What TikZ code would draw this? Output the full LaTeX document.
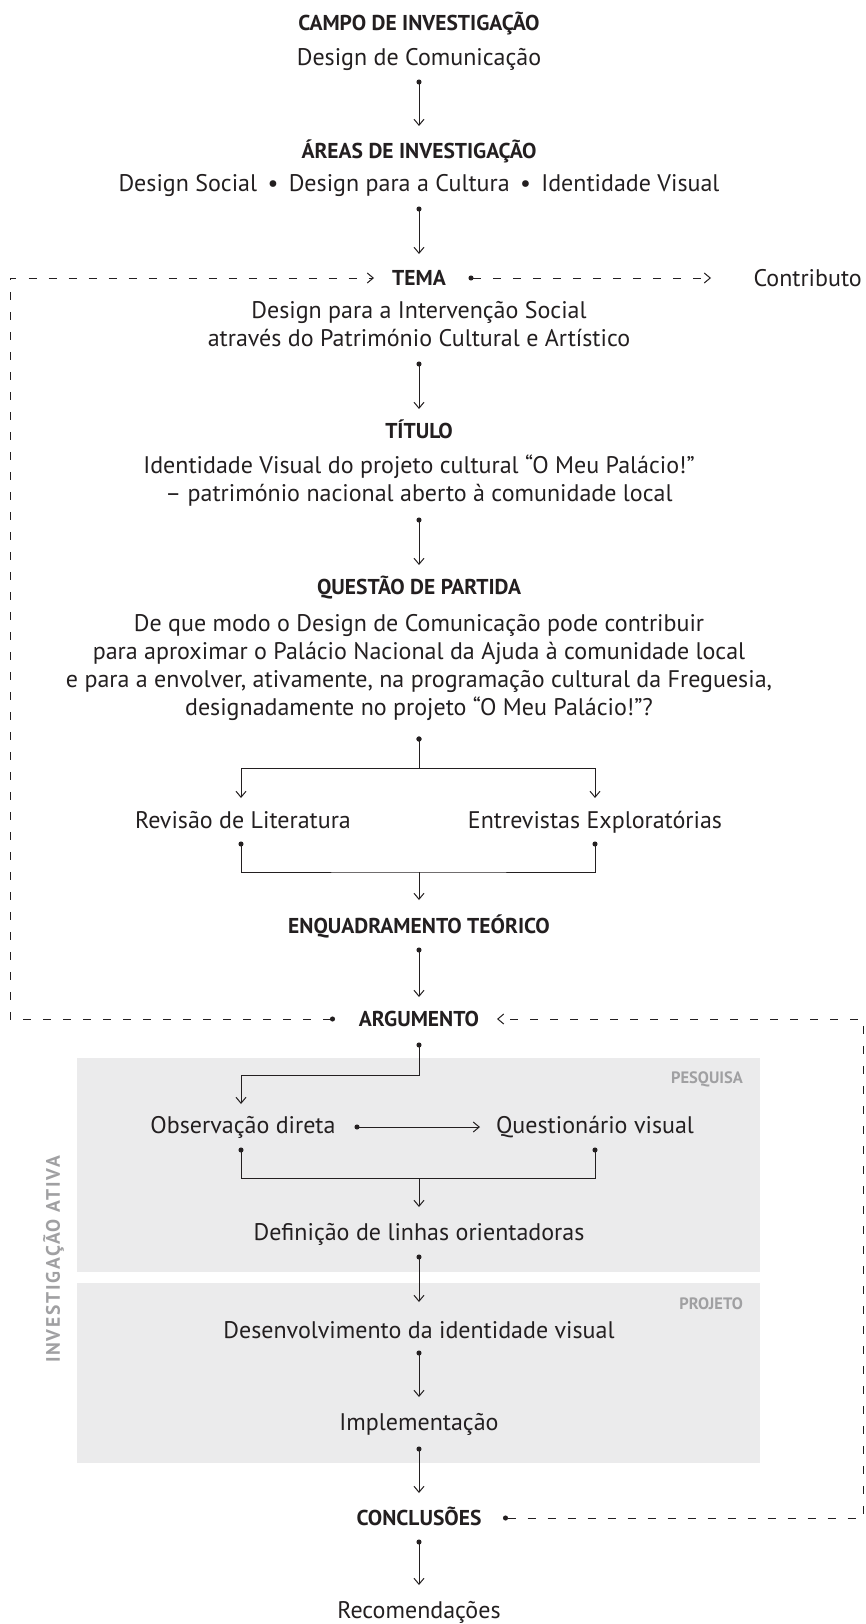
\documentclass[tikz,border=0pt]{standalone}
\usepackage{fontspec}
\setmainfont{PT Sans}
\usetikzlibrary{arrows.meta}
\definecolor{ink}{HTML}{231F20}
\definecolor{boxgray}{HTML}{EBEBEC}
\definecolor{labgray}{HTML}{A0A0A2}
\tikzset{
  body/.style={font=\fontsize{24}{28}\selectfont, text=ink, inner sep=0, anchor=base},
  head/.style={font=\bfseries\fontsize{21.5}{24}\selectfont, text=ink, inner sep=0, anchor=base},
  tag/.style={font=\bfseries\fontsize{16.5}{18}\selectfont, text=labgray, inner sep=0, anchor=base east},
  con/.style={draw=ink, line width=1pt, {Circle[length=5pt]}-{Straight Barb[length=6pt,width=10pt]}},
  plain/.style={draw=ink, line width=1pt},
  dotted/.style={draw=ink, line width=1pt, {Circle[length=5pt]}-{Circle[length=5pt]}},
  dashcon/.style={draw=ink, line width=1pt, dash pattern=on 8pt off 12pt, {Circle[length=5pt]}-{Straight Barb[length=6pt,width=10pt]}},
}
\begin{document}
\begin{tikzpicture}[x=1pt,y=-1pt]
\useasboundingbox (0,0) rectangle (865,1624);
% grey panels
\fill[boxgray] (77,1058) rectangle (760,1272);
\fill[boxgray] (77,1283) rectangle (760,1463);

% texts
\node[head] (campo) at (419,30.5) {CAMPO DE INVESTIGAÇÃO};
\node[body] (dc) at (419,65.4) {Design de Comunicação};
\node[head] (areas) at (419,158.5) {ÁREAS DE INVESTIGAÇÃO};
\node[body] (areastxt) at (419,191.4) {Design Social \,\textbullet\, Design para a Cultura \,\textbullet\, Identidade Visual};
\node[head] (tema) at (419,285.5) {TEMA};
\node[body, anchor=base east] (contrib) at (862,286.4) {Contributo};
\node[body] (tema1) at (419,318.4) {Design para a Intervenção Social};
\node[body] (tema2) at (419,346.4) {através do Património Cultural e Artístico};
\node[head] (titulo) at (419,438.5) {TÍTULO};
\node[body] (tit1) at (419,473.4) {Identidade Visual do projeto cultural “O Meu Palácio!”};
\node[body] (tit2) at (419,501.4) {– património nacional aberto à comunidade local};
\node[head] (questao) at (419,594.5) {QUESTÃO DE PARTIDA};
\node[body] (q1) at (419,631.4) {De que modo o Design de Comunicação pode contribuir};
\node[body] (q2) at (419,659.4) {para aproximar o Palácio Nacional da Ajuda à comunidade local};
\node[body] (q3) at (419,687.4) {e para a envolver, ativamente, na programação cultural da Freguesia,};
\node[body] (q4) at (419,715.4) {designadamente no projeto “O Meu Palácio!”?};
\node[body] (rev) at (243,828.4) {Revisão de Literatura};
\node[body] (ent) at (595,828.4) {Entrevistas Exploratórias};
\node[head] (enq) at (419,933.5) {ENQUADRAMENTO TEÓRICO};
\node[head] (arg) at (419,1026.5) {ARGUMENTO};
\node[tag] (pesq) at (743,1083) {PESQUISA};
\node[body] (obs) at (243,1133.4) {Observação direta};
\node[body] (quest) at (595,1133.4) {Questionário visual};
\node[body] (def) at (419,1240.4) {Definição de linhas orientadoras};
\node[tag] (proj) at (743,1309) {PROJETO};
\node[body] (desenv) at (419,1338.4) {Desenvolvimento da identidade visual};
\node[body] (impl) at (419,1430.4) {Implementação};
\node[head] (concl) at (419,1525.5) {CONCLUSÕES};
\node[body] (recom) at (419,1618.4) {Recomendações};
\node[rotate=90, font=\bfseries\addfontfeatures{LetterSpace=9}\fontsize{19.5}{20}\selectfont, text=labgray, inner sep=0] (inv) at (53.5,1259.5) {INVESTIGAÇÃO ATIVA};

% connector end points
\coordinate (a1) at (419,79.5);   \coordinate (b1) at (419,126);
\coordinate (a2) at (419,206.5);  \coordinate (b2) at (419,254);
\coordinate (a3) at (419,361.5);  \coordinate (b3) at (419,409);
\coordinate (a4) at (419,517.5);  \coordinate (b4) at (419,565);
\coordinate (a5) at (419,736.5);  \coordinate (s5) at (419,768);
\coordinate (l5) at (241,798);    \coordinate (r5) at (595,798);
\coordinate (l6) at (241,841.5);  \coordinate (r6) at (595,841.5);
\coordinate (m6) at (419,872);    \coordinate (b6) at (419,900);
\coordinate (a7) at (419,947.5);  \coordinate (b7) at (419,997);
\coordinate (a8) at (419,1042.5); \coordinate (s8) at (419,1075);
\coordinate (b8) at (241,1104);
\coordinate (a9) at (354.5,1127); \coordinate (b9) at (480,1127);
\coordinate (l10) at (241,1147.5); \coordinate (r10) at (595,1147.5);
\coordinate (m10) at (419,1178);  \coordinate (b10) at (419,1207);
\coordinate (a11) at (419,1254.5); \coordinate (b11) at (419,1302);
\coordinate (a12) at (419,1350.5); \coordinate (b12) at (419,1397);
\coordinate (a13) at (419,1446.5); \coordinate (b13) at (419,1493);
\coordinate (a14) at (419,1539.5); \coordinate (b14) at (419,1585);
% dashed loop points
\coordinate (ad) at (335,1019); \coordinate (cl1) at (10,1019);
\coordinate (cl2) at (10,278);    \coordinate (tl) at (374,278);
\coordinate (td) at (468.5,278);  \coordinate (tr) at (711,278);
\coordinate (cd) at (503,1518); \coordinate (cr1) at (863,1518);
\coordinate (cr2) at (863,1019);  \coordinate (ar) at (497,1019);

% connectors
\draw[con] (a1) -- (b1);
\draw[con] (a2) -- (b2);
\draw[con] (a3) -- (b3);
\draw[con] (a4) -- (b4);
\draw[con] (a5) -- (s5) -| (l5);
\draw[con] (a5) -- (s5) -| (r5);
\draw[dotted] (l6) |- (m6) -| (r6);
\draw[-{Straight Barb[length=6pt,width=10pt]}, plain] (m6) -- (b6);
\draw[con] (a7) -- (b7);
\draw[con] (a8) -- (s8) -| (b8);
\draw[con] (a9) -- (b9);
\draw[dotted] (l10) |- (m10) -| (r10);
\draw[-{Straight Barb[length=6pt,width=10pt]}, plain] (m10) -- (b10);
\draw[con] (a11) -- (b11);
\draw[con] (a12) -- (b12);
\draw[con] (a13) -- (b13);
\draw[con] (a14) -- (b14);
% dashed feedback loops
\draw[dashcon] (ad) -- (cl1) -- (cl2) -- (tl);
\draw[dashcon] (td) -- (tr);
\draw[dashcon] (cd) -- (cr1) -- (cr2) -- (ar);
\end{tikzpicture}
\end{document}
